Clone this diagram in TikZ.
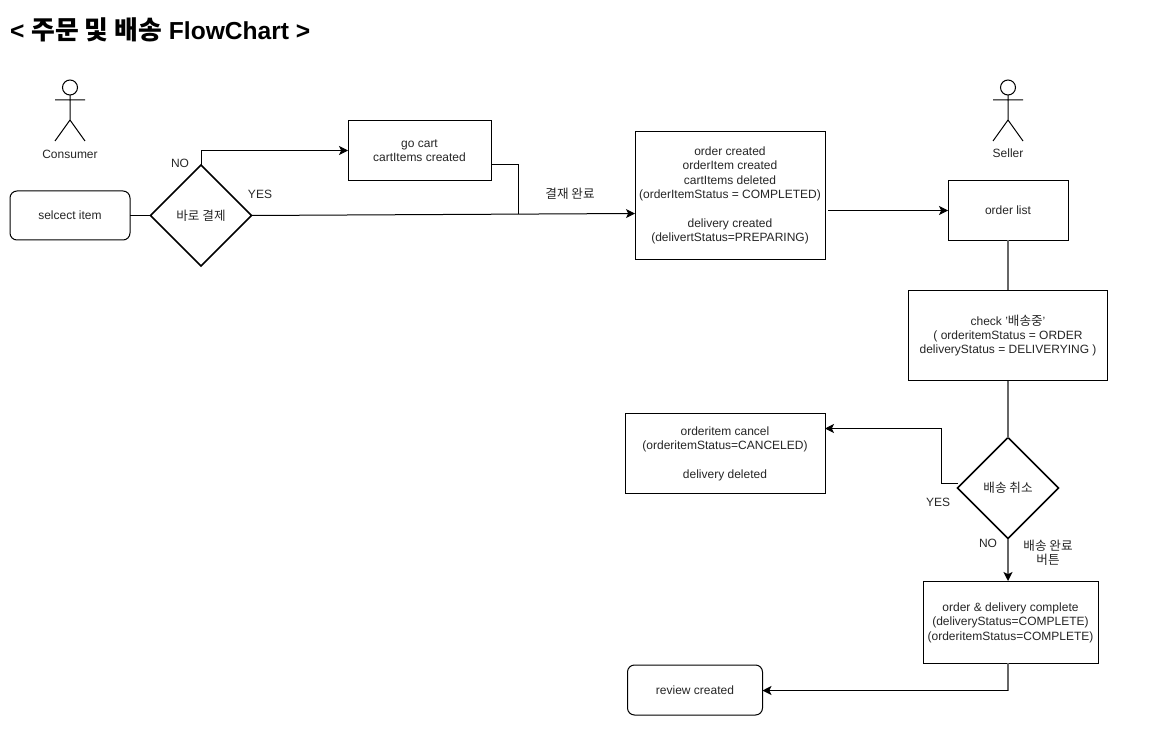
\documentclass[tikz,border=0pt]{standalone}
\usepackage{fontspec}
\setmainfont{Liberation Sans}
\newfontfamily\krfont[Scale=1.05]{Noto Sans CJK KR}
\newcommand{\kr}[1]{{\krfont #1}}
\usetikzlibrary{shapes.geometric,arrows.meta}
\tikzset{
  txt/.style={font=\fontsize{12}{14.4}\selectfont,align=center,inner sep=0pt,text=black!85},
  box/.style={txt,draw=black,line width=1pt,fill=white,outer sep=0pt},
  rbox/.style={box,rounded corners=7pt},
  dec/.style={txt,draw=black,line width=1.5pt,shape=diamond,aspect=1,fill=white,outer sep=0pt},
  conn/.style={line width=1pt,draw=black},
  connv/.style={line width=1.5pt,draw=black!60},
  arr/.style={-{Stealth[length=9pt,width=9pt,inset=2.2pt,color=black]}},
  actor/.style={line width=1pt,draw=black}
}
\begin{document}
\begin{tikzpicture}[x=1pt,y=-1pt]
\useasboundingbox (0,0) rectangle (1176,754);
\node[anchor=west,inner sep=0pt,font=\fontsize{24.6}{28}\selectfont\bfseries] (title) at (10,30) {< {\krfont\bfseries 주문 및 배송} FlowChart >};
% actors
\node[txt] (consumer) at (70,154) {Consumer};
\node[draw=black,line width=1pt,circle,minimum size=15pt,inner sep=0pt,outer sep=0pt] (h1) at (70,87.5) {};
\coordinate (a1l) at (55,100); \coordinate (a1r) at (85,100);
\coordinate (b1) at (70,120); \coordinate (l1l) at (55,141); \coordinate (l1r) at (85,141);
\draw[actor] (h1.south) -- (b1) (a1l) -- (a1r) (l1l) -- (b1) -- (l1r);
\node[txt] (seller) at (1008,153) {Seller};
\node[draw=black,line width=1pt,circle,minimum size=15pt,inner sep=0pt,outer sep=0pt] (h2) at (1008,87.5) {};
\coordinate (a2l) at (993,100); \coordinate (a2r) at (1023,100);
\coordinate (b2) at (1008,120); \coordinate (l2l) at (993,141); \coordinate (l2r) at (1023,141);
\draw[actor] (h2.south) -- (b2) (a2l) -- (a2r) (l2l) -- (b2) -- (l2r);
% nodes
\node[rbox,minimum width=120pt,minimum height=49pt] (sel) at (70,215.5) {selcect item};
\node[dec,minimum width=101pt,minimum height=101pt] (d1) at (201,215.5) {\kr{바로 결제}};
\node[box,minimum width=143pt,minimum height=60pt] (cart) at (419.5,150.5) {go cart\\cartItems created};
\node[box,minimum width=190pt,minimum height=128pt] (order) at (730,195.5) {order created\\orderItem created\\cartItems deleted\\(orderItemStatus = COMPLETED)\\[14.4pt]delivery created\\(delivertStatus=PREPARING)};
\node[box,minimum width=120pt,minimum height=60pt] (list) at (1008,210.5) {order list};
\node[box,minimum width=199pt,minimum height=90pt] (check) at (1008,335.5) {check '\kr{배송중}'\\( orderitemStatus = ORDER\\deliveryStatus = DELIVERYING )};
\node[dec,minimum width=101pt,minimum height=101pt] (d2) at (1008,488) {\kr{배송 취소}};
\node[box,minimum width=200pt,minimum height=80pt] (cancel) at (725,453.5) {orderitem cancel\\(orderitemStatus=CANCELED)\\[14.4pt]delivery deleted};
\node[box,minimum width=175pt,minimum height=82pt] (done) at (1010.5,622.5) {order \& delivery complete\\(deliveryStatus=COMPLETE)\\(orderitemStatus=COMPLETE)};
\node[rbox,minimum width=135pt,minimum height=50pt] (review) at (695,690) {review created};
% labels
\node[txt] (lno1) at (180,163) {NO};
\node[txt] (lyes1) at (260,194) {YES};
\node[txt] (lpay) at (570,194) {\kr{결재 완료}};
\node[txt] (lyes2) at (938,502) {YES};
\node[txt] (lno2) at (988,543) {NO};
\node[txt] (lbtn) at (1048,552.5) {\kr{배송 완료}\\\kr{버튼}};
% connectors
\draw[conn] (sel.east) -- (d1.west);
\draw[conn,arr] (d1.north) |- (cart.west);
\coordinate (orderin) at (order.west |- 0,213.5);
\draw[conn,arr] (d1.east) -- (orderin);
\coordinate (cartout) at (cart.east |- 0,165);
\coordinate (join) at (518,214.5);
\draw[conn] (cartout) -| (join);
\coordinate (orderout) at (828,210.5);
\draw[conn,arr] (orderout) -- (list.west);
\draw[connv] (list.south) -- (check.north);
\draw[connv] (check.south) -- (d2.north);
\coordinate (d2out) at (958,483.5);
\coordinate (d2mid) at (941,483.5);
\coordinate (cancelin) at (cancel.east |- 0,428.5);
\draw[conn,arr] (d2out) -- (d2mid) |- (cancelin);
\coordinate (donein) at (1008,581);
\draw[connv,arr] (d2.south) -- (donein);
\coordinate (doneout) at (1008,663);
\coordinate (revturn) at (1008,690.5);
\draw[connv] (doneout) -- (revturn);
\draw[conn,arr] (revturn) -- (review.east |- revturn);
\end{tikzpicture}
\end{document}
